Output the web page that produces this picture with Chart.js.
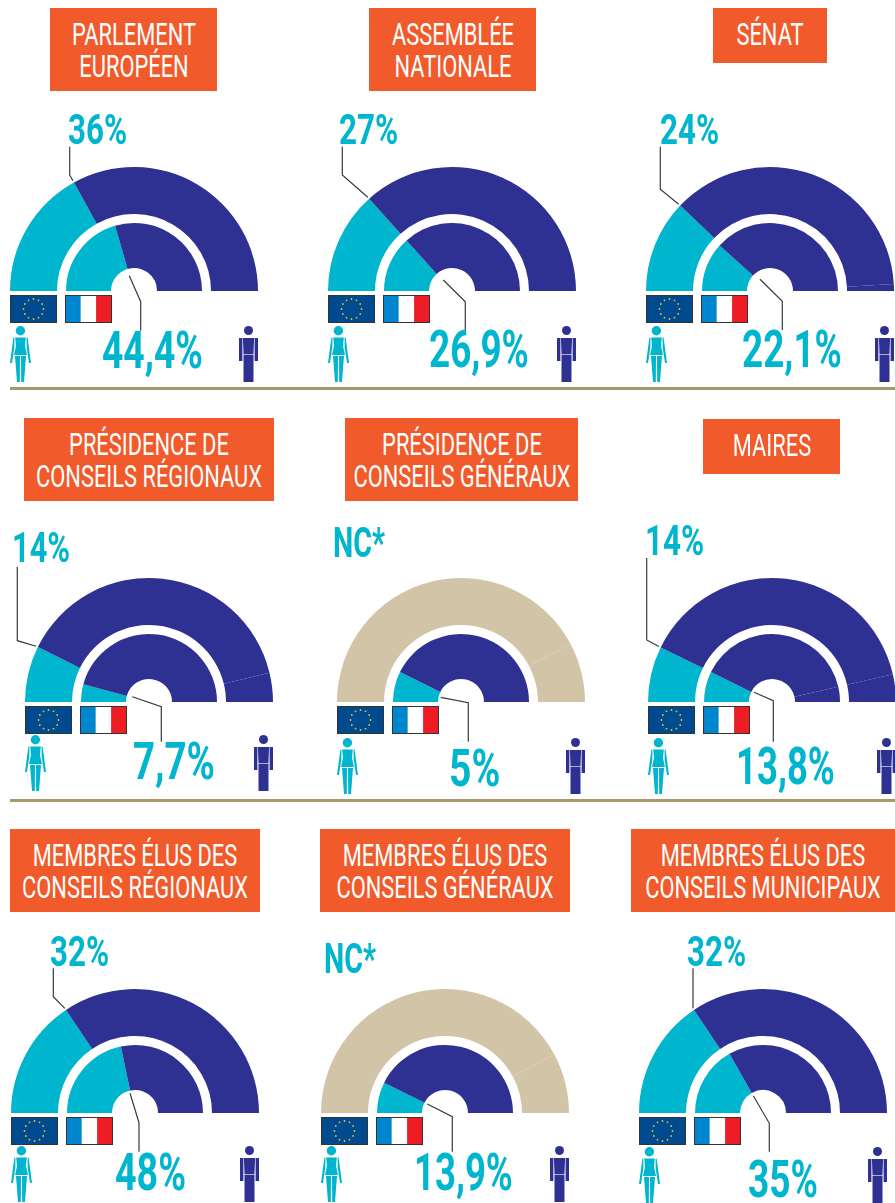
<!DOCTYPE html>
<html lang="fr">
<head>
<meta charset="utf-8">
<title>Part des femmes élues</title>
<script src="https://cdn.jsdelivr.net/npm/chart.js@4"></script>
<style>
html, body { margin: 0; padding: 0; background: #fff; }
body { position: relative; width: 895px; height: 1203px; overflow: hidden; font-family: Roboto, sans-serif; }
canvas { position: absolute; }
svg { position: absolute; left: 0; top: 0; }
.title { position: absolute; background: #F15A2B; }
.title span { position: absolute; left: 50%; white-space: nowrap; color: #fff; font-size: 31px; line-height: 1; font-weight: 400; transform: translateX(-50%) scaleX(0.705); }
.pct { position: absolute; white-space: nowrap; color: #00B5CE; font-weight: 700; line-height: 1; transform-origin: left top; }
.rule { position: absolute; left: 10px; width: 885px; height: 3px; background: #A8996A; }
</style>
</head>
<body>
<script>
// Texts
const titles = [
    ["PARLEMENT", "EUROPÉEN"],
    ["ASSEMBLÉE", "NATIONALE"],
    ["SÉNAT"],
    ["PRÉSIDENCE DE", "CONSEILS RÉGIONAUX"],
    ["PRÉSIDENCE DE", "CONSEILS GÉNÉRAUX"],
    ["MAIRES"],
    ["MEMBRES ÉLUS DES", "CONSEILS RÉGIONAUX"],
    ["MEMBRES ÉLUS DES", "CONSEILS GÉNÉRAUX"],
    ["MEMBRES ÉLUS DES", "CONSEILS MUNICIPAUX"]
];
const euLabels = ["36%", "27%", "24%", "14%", "NC*", "14%", "32%", "NC*", "32%"];
const frLabels = ["44,4%", "26,9%", "22,1%", "7,7%", "5%", "13,8%", "48%", "13,9%", "35%"];

// Share of each half ring (women, men, men after the seam)
const outerShares = [
    [33.9, 66.1],
    [26.7, 73.3],
    [24.2, 74.0, 1.8],
    [14.6, 77.8, 7.6],
    [84.4, 15.6],
    [14.5, 78.3, 7.2],
    [31.2, 68.8],
    [84.3, 15.7],
    [31.2, 68.8]
];
const innerShares = [
    [41.0, 59.0],
    [26.7, 73.3],
    [23.4, 76.6],
    [8.4, 91.6],
    [14.5, 85.5],
    [14.5, 78.3, 7.2],
    [43.3, 56.7],
    [14.7, 85.3],
    [33.6, 66.4]
];
const ringGap = [1];

const CYAN = "#00B5CE";
const INDIGO = "#2E3192";
const BEIGE = "#D1C4A7";

// Layout of each panel: centre of the half rings, title box, label boxes, leader elbows
const panels = [
    { cx: 134, base: 291, box: [50, 8, 167, 83], top: [68, 59, 144], bottom: [102, 101, 369], topLine: [[-64.3, -116], [-64.3, -144.3]], bottomLine: [[-4.7, -15.3], [6.7, 10.7], [6.7, 39.7]], icons: 35 },
    { cx: 452, base: 291, box: [369, 8, 167, 83], top: [339, 59, 144], bottom: [429, 100, 368], topLine: [[-109.7, -116], [-109.7, -144.3]], bottomLine: [[-8.7, -11], [13.3, 10.7], [13.3, 39]], icons: 35 },
    { cx: 770, base: 291, box: [713, 8, 114, 55], top: [660, 59, 144], bottom: [742, 100, 368], topLine: [[-109.7, -101.7], [-109.7, -144.3]], bottomLine: [[-10, -11.7], [12.3, 10.3], [12.3, 39]], icons: 35 },
    { cx: 149, base: 702, box: [24, 418, 250, 83], top: [12, 58, 562], bottom: [133, 82, 780], topLine: [[-131.7, -61.3], [-131.7, -135.3]], bottomLine: [[-16.7, -5.3], [12.3, 4.7], [12.3, 39.7]], icons: 33 },
    { cx: 461, base: 702, box: [345, 418, 233, 83], top: [333, 52, 557], bottom: [449, 51, 787], topLine: null, bottomLine: [[-20.3, -4.7], [7.3, 0.7], [7.3, 39.7]], icons: 36 },
    { cx: 772, base: 702, box: [703, 419, 137, 55], top: [645, 59, 555], bottom: [736, 99, 785], topLine: [[-125.3, -62], [-125.3, -144]], bottomLine: [[-18, -9.7], [1.3, -1.3], [1.3, 39.7]], icons: 36 },
    { cx: 135, base: 1113, box: [10, 829, 250, 83], top: [50, 59, 966], bottom: [115, 71, 1191], topLine: [[-81.7, -116.3], [-81.7, -144.7]], bottomLine: [[-5, -19.7], [4, 9.7], [4, 38.7]], icons: 33 },
    { cx: 445, base: 1113, box: [320, 829, 250, 83], top: [324, 52, 973], bottom: [414, 99, 1191], topLine: null, bottomLine: [[-17.7, -9], [7.3, 3.7], [7.3, 38.7]], icons: 33 },
    { cx: 763, base: 1113, box: [631, 829, 264, 83], top: [687, 59, 966], bottom: [748, 70, 1198], topLine: [[-70, -107], [-70, -144.7]], bottomLine: [[-9.7, -17.3], [6.3, 10.3], [6.3, 38.7]], icons: 34 }
];

// Leader lines from the split of the outer ring and from the hole up to the labels
const leaderLines = {
    id: "leaderLines",
    afterDatasetsDraw(chart, args, opts) {
        const arc = chart.getDatasetMeta(0).data[0];
        const ctx = chart.ctx;
        ctx.save();
        ctx.strokeStyle = "#3a3a3a";
        ctx.lineWidth = 1.2;
        if (opts.topLine) {
            const r = arc.outerRadius + 2;
            ctx.beginPath();
            ctx.moveTo(arc.x + r * Math.cos(arc.endAngle), arc.y + r * Math.sin(arc.endAngle));
            opts.topLine.forEach(p => ctx.lineTo(arc.x + p[0], arc.y + p[1]));
            ctx.stroke();
        }
        ctx.beginPath();
        opts.bottomLine.forEach((p, i) => {
            if (i === 0) ctx.moveTo(arc.x + p[0], arc.y + p[1]);
            else ctx.lineTo(arc.x + p[0], arc.y + p[1]);
        });
        ctx.stroke();
        ctx.restore();
    }
};

function drawPanel(i) {
    const p = panels[i];
    const canvas = document.createElement("canvas");
    canvas.width = 300;
    canvas.height = 300;
    canvas.style.left = (p.cx - 150) + "px";
    canvas.style.top = (p.base - 190) + "px";
    document.body.appendChild(canvas);

    const outerColors = euLabels[i] === "NC*" ? [BEIGE, BEIGE] : [CYAN, INDIGO, INDIGO];
    new Chart(canvas, {
        type: "doughnut",
        data: {
            labels: ["Femmes", "Hommes", "Hommes"],
            datasets: [
                { data: outerShares[i], backgroundColor: outerColors, borderWidth: 0, weight: 47 },
                { data: ringGap, backgroundColor: "transparent", borderWidth: 0, weight: 9 },
                { data: innerShares[i], backgroundColor: [CYAN, INDIGO, INDIGO], borderWidth: 0, weight: 45 }
            ]
        },
        options: {
            responsive: false,
            animation: false,
            events: [],
            rotation: -90,
            circumference: 180,
            cutout: "18.55%",
            layout: { padding: { left: 26, right: 26, top: 66, bottom: 110 } },
            plugins: {
                legend: { display: false },
                tooltip: { enabled: false },
                leaderLines: { topLine: p.topLine, bottomLine: p.bottomLine }
            }
        },
        plugins: [leaderLines]
    });
}

function addTitle(i) {
    const b = panels[i].box;
    const div = document.createElement("div");
    div.className = "title";
    div.style.cssText = `left:${b[0]}px;top:${b[1]}px;width:${b[2]}px;height:${b[3]}px`;
    titles[i].forEach((line, n) => {
        const span = document.createElement("span");
        span.textContent = line;
        span.style.top = (11 + n * 32) + "px";
        div.appendChild(span);
    });
    document.body.appendChild(div);
}

// Labels are stretched to the width they have in the picture: [left, width, baseline]
function addLabel(text, place, size) {
    const el = document.createElement("div");
    el.className = "pct";
    el.textContent = text;
    el.style.fontSize = size + "px";
    el.style.left = place[0] + "px";
    el.style.top = (place[2] - 0.841 * size) + "px";
    document.body.appendChild(el);
    el.style.transform = `scaleX(${place[1] / el.offsetWidth})`;
}

function flagsAndFigures(p) {
    const x = p.cx, y = p.base;
    let dots = "";
    for (let k = 0; k < 12; k++) {
        const a = k * Math.PI / 6;
        dots += `<circle cx="${x - 100.5 + 10 * Math.cos(a)}" cy="${y + 18 + 10 * Math.sin(a)}" r="0.9" fill="#E0C030"/>`;
    }
    const wy = y + p.icons;
    return `
    <rect x="${x - 123.5}" y="${y + 4.5}" width="46" height="27" fill="#004A8F" stroke="#333" stroke-width="1"/>${dots}
    <rect x="${x - 68.5}" y="${y + 4.5}" width="15.3" height="27" fill="#0085CF"/>
    <rect x="${x - 53.2}" y="${y + 4.5}" width="15.3" height="27" fill="#fff"/>
    <rect x="${x - 37.9}" y="${y + 4.5}" width="15.4" height="27" fill="#EE1C25"/>
    <rect x="${x - 68.5}" y="${y + 4.5}" width="46" height="27" fill="none" stroke="#333" stroke-width="1"/>
    <g transform="translate(${x - 124} ${wy})" fill="${CYAN}">
      <circle cx="10.4" cy="4.7" r="4.7"/>
      <polygon points="5.2,11.5 15.8,11.5 15,20 17,29 4,29 6,20"/>
      <polygon points="3.4,11.5 4.4,11.5 4.4,21 2,37 0,37"/>
      <polygon points="16.6,11.5 17.6,11.5 21,37 19,37 16.6,21"/>
      <polygon points="5,30 10,30 9.8,56 7,56"/>
      <polygon points="11,30 16,30 14,56 11.2,56"/>
    </g>
    <g transform="translate(${x + 105} ${wy})" fill="${INDIGO}">
      <circle cx="9.5" cy="4.5" r="4.5"/>
      <rect x="0" y="12" width="3.4" height="23"/>
      <rect x="15.6" y="12" width="3.4" height="23"/>
      <polygon points="3.9,12 15.1,12 14.5,28 4.5,28"/>
      <rect x="4.5" y="28.6" width="10" height="27.4"/>
    </g>`;
}

panels.forEach((p, i) => {
    addTitle(i);
    drawPanel(i);
    addLabel(euLabels[i], p.top, 43);
    addLabel(frLabels[i], p.bottom, 52);
});

const svg = document.createElementNS("http://www.w3.org/2000/svg", "svg");
svg.setAttribute("width", "895");
svg.setAttribute("height", "1203");
svg.innerHTML = panels.map(flagsAndFigures).join("");
document.body.appendChild(svg);

[387, 799].forEach(y => {
    const rule = document.createElement("div");
    rule.className = "rule";
    rule.style.top = y + "px";
    document.body.appendChild(rule);
});
</script>
</body>
</html>
